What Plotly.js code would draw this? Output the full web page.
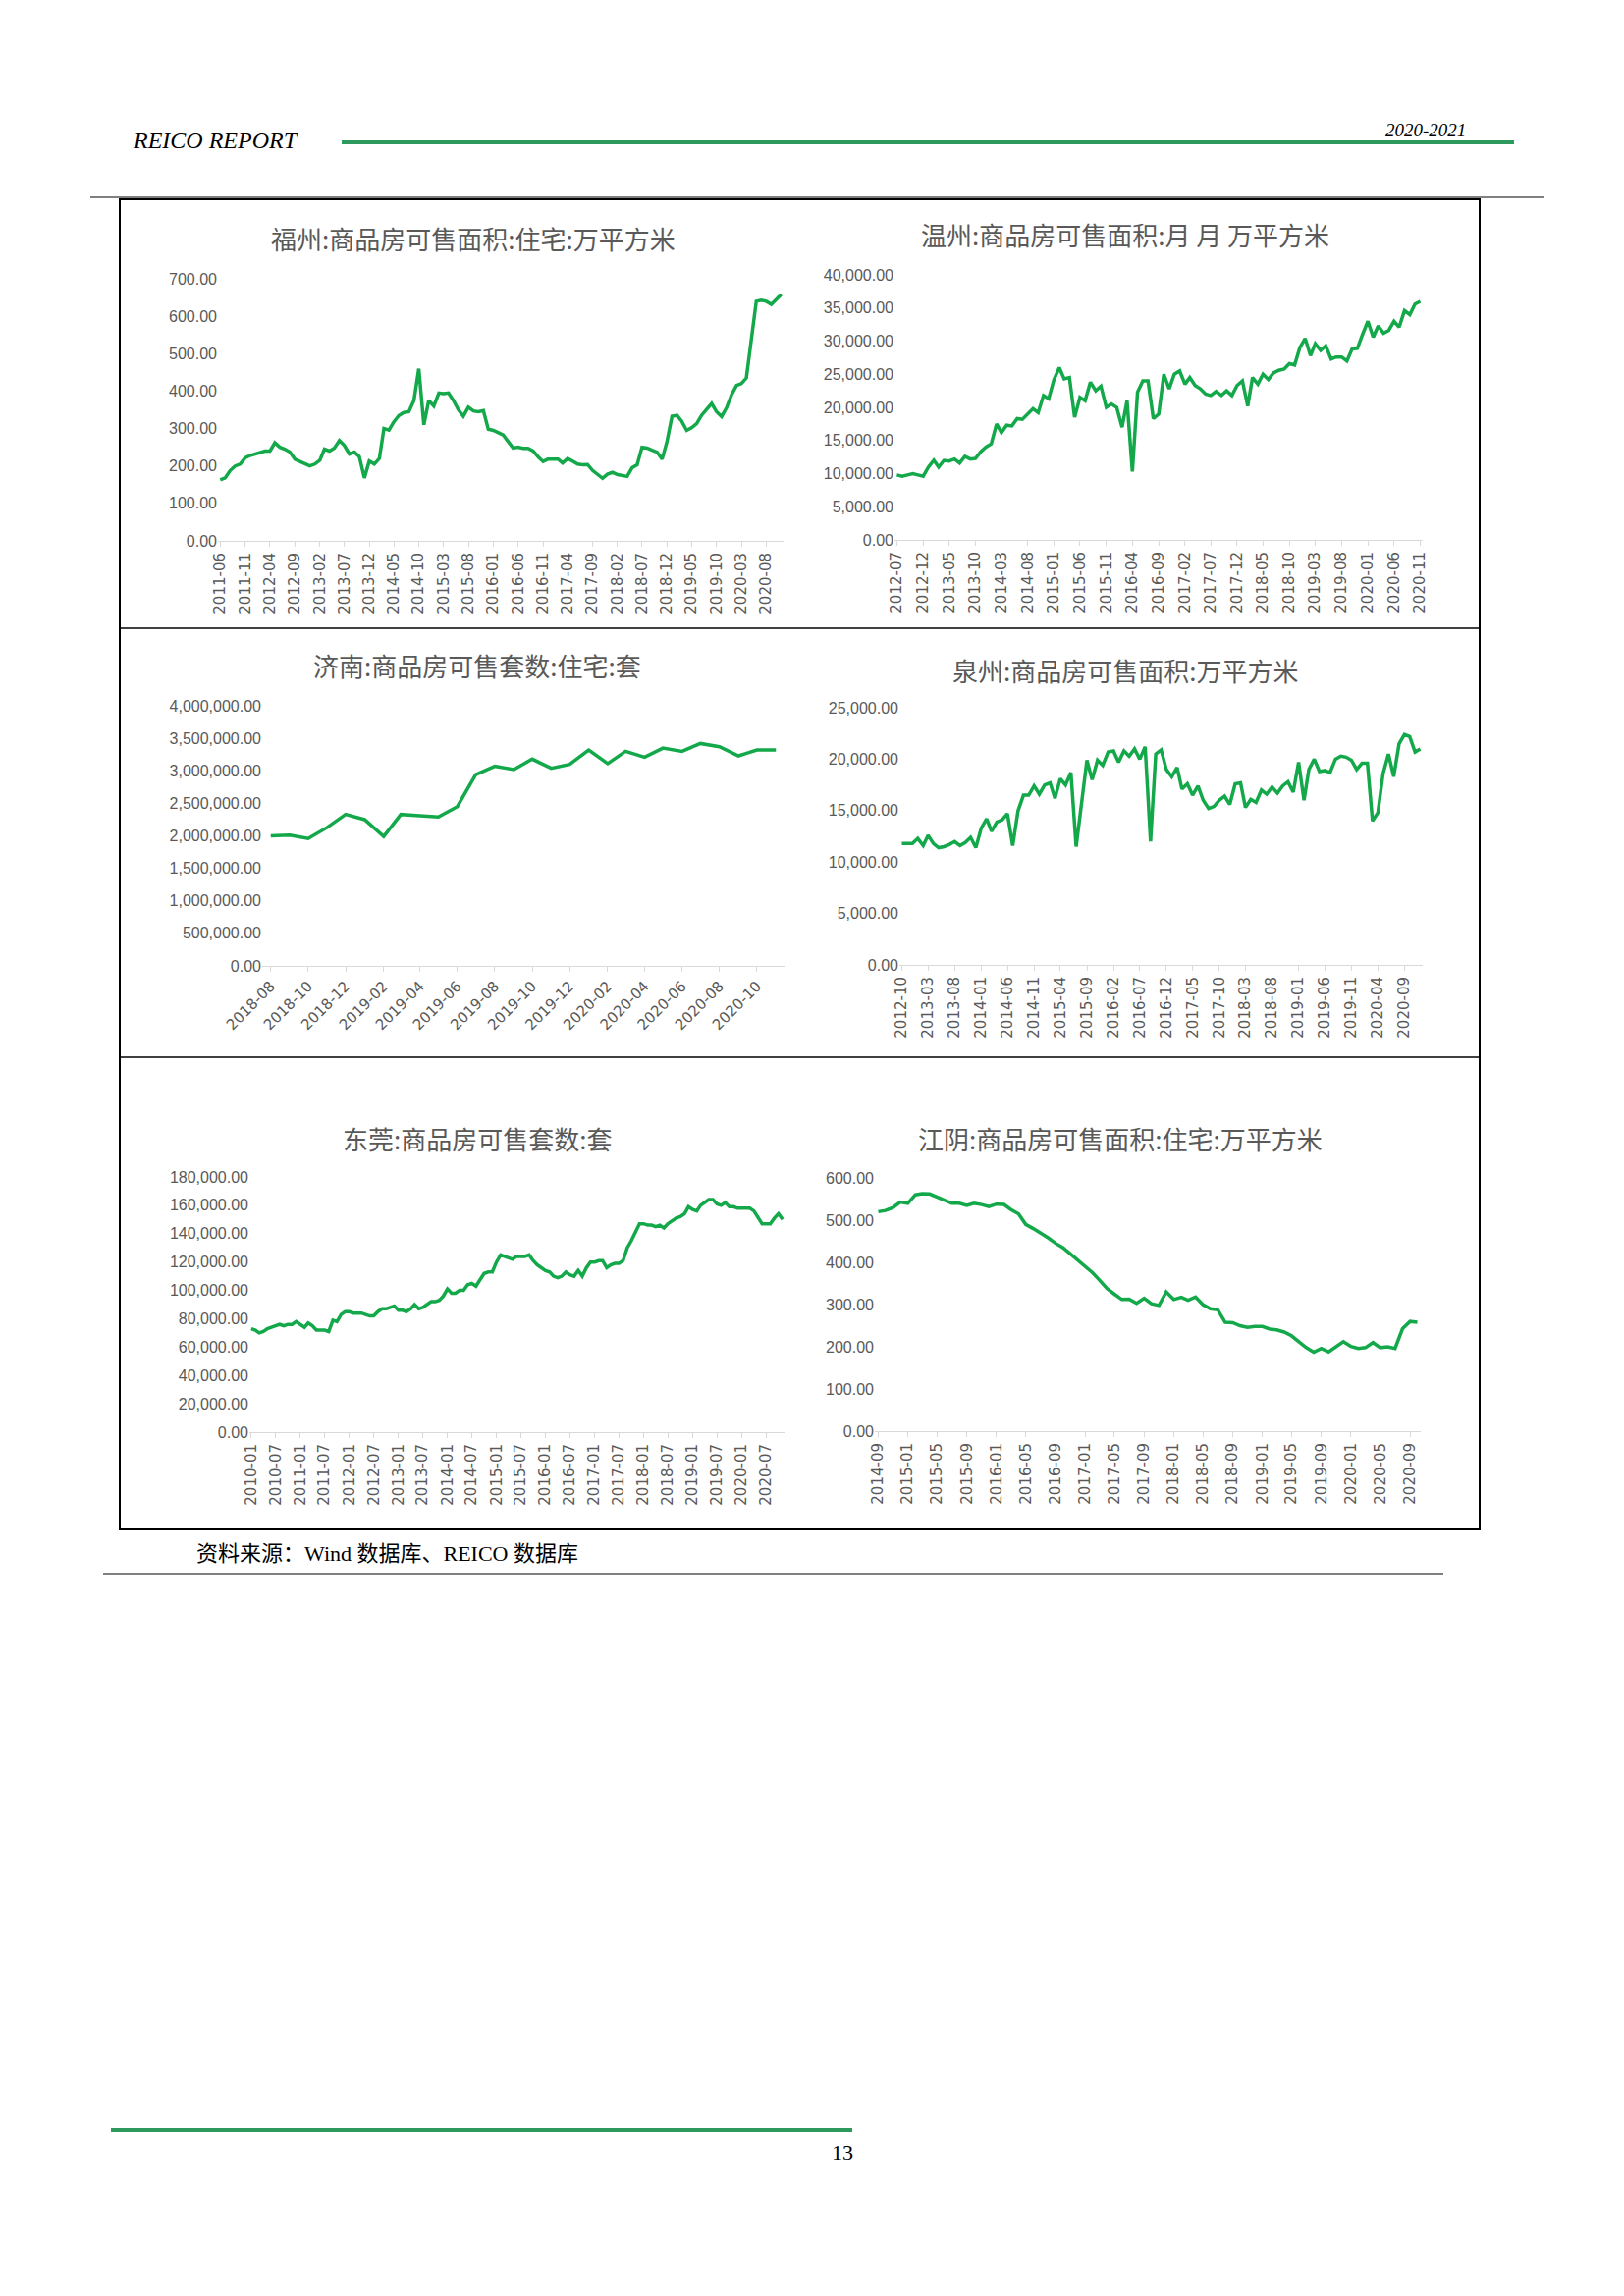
<!DOCTYPE html>
<html>
<head>
<meta charset="utf-8">
<script src="https://cdn.plot.ly/plotly-3.0.1.min.js"></script>
<style>
  html, body { margin: 0; padding: 0; background: #fff; }
  #page { width: 1654px; height: 2339px; }
</style>
</head>
<body>
<div id="page"></div>
<script>
(function () {

    const W = 1654;
    const H = 2339;
    const LINE_GREEN = "#13A84A";
    const RULE_GREEN = "#2E9A5E";
    const TEXT_GRAY = "#595959";
    const CJK = "Noto Sans CJK SC, sans-serif";
    const SERIF = "Liberation Serif, DejaVu Serif, serif";

    // ---- data (monthly values) ----
    const fuzhouStart = "2011-06";
    const fuzhouVals = [
        163, 168, 188, 200, 205, 222, 228,
        232, 236, 240, 240, 262, 250, 245, 237, 218, 212, 205, 200,
        205, 215, 245, 240, 248, 268, 255, 232, 237, 225, 168, 213,
        205, 220, 300, 296, 318, 335, 343, 345, 375, 460, 310, 375,
        360, 395, 393, 395, 375, 350, 333, 357, 347, 345, 348, 298,
        295, 290, 283, 265, 248, 250, 247, 247, 240, 225, 212, 218,
        218, 218, 208, 220, 213, 205, 203, 204, 188, 178, 167, 178,
        183, 177, 175, 172, 195, 203, 250, 248, 242, 237, 218, 265,
        333, 335, 320, 295, 302, 313, 335, 350, 367, 345, 332, 355,
        390, 415, 420, 435, 530, 640, 643, 640, 632, 645, 658
    ];

    const wenzhouStart = "2012-07";
    const wenzhouVals = [
        9800, 9600, 9800, 10000, 9800, 9600,
        11000, 12000, 11000, 12000, 11900, 12200, 11600, 12600, 12200, 12300, 13300, 14000,
        14500, 17500, 16200, 17300, 17200, 18300, 18200, 19000, 19800, 19200, 21800, 21300,
        24200, 26000, 24300, 24500, 18500, 21500, 21000, 23800, 22500, 23200, 20000, 20500,
        20000, 17000, 21000, 10300, 22300, 24000, 24000, 18300, 19000, 25000, 22800, 25000,
        25500, 23500, 24500, 23300, 22800, 22000, 21800, 22400, 21800, 22500, 21800, 23300,
        24000, 20200, 24500, 23500, 25000, 24200, 25200, 25600, 25800, 26600, 26400, 29000,
        30400, 27800, 29600, 28600, 29300, 27300, 27600, 27600, 27000, 28800, 28900, 31000,
        33000, 30600, 32300, 31200, 31600, 33000, 32100, 34600, 34000, 35600, 36000
    ];

    const jinanStart = "2018-08";
    const jinanVals = [
        2000000, 2010000, 1960000, 2130000, 2330000,
        2250000, 1990000, 2330000, 2310000, 2290000, 2450000, 2940000, 3070000, 3020000, 3180000, 3040000, 3100000,
        3320000, 3110000, 3300000, 3210000, 3350000, 3300000, 3420000, 3370000, 3230000, 3320000, 3320000
    ];

    const quanzhouStart = "2012-10";
    const quanzhouVals = [
        11800, 11800, 11800,
        12300, 11600, 12600, 11800, 11400, 11500, 11700, 12000, 11600, 11900, 12400, 11400,
        13300, 14200, 13000, 13900, 14100, 14700, 11600, 15000, 16500, 16500, 17400, 16600,
        17500, 17700, 16200, 18100, 17500, 18700, 11500, 15500, 19900, 18000, 19900, 19400,
        20700, 20800, 19700, 20800, 20300, 21000, 20000, 21200, 12000, 20500, 20900, 19000,
        18300, 19200, 17100, 17600, 16500, 17400, 16000, 15200, 15400, 16000, 16400, 15600,
        17600, 17700, 15300, 16100, 15800, 17000, 16600, 17300, 16700, 17400, 17800, 16800,
        19700, 16000, 19000, 20000, 18800, 18900, 18700, 20000, 20300, 20200, 19900, 19000,
        19600, 19600, 14000, 14800, 18600, 20500, 18300, 21500, 22400, 22200, 20700, 21000
    ];

    const dongguanStart = "2010-01";
    const dongguanVals = [
        73000, 72000, 70000, 71000, 73000, 74000, 75000, 76000, 75000, 76000, 76000, 78000,
        76000, 74000, 77000, 75000, 72000, 72000, 72000, 71000, 79000, 78000, 83000, 85000,
        85000, 84000, 84000, 84000, 83000, 82000, 82000, 85000, 87000, 87000, 88000, 89000,
        86000, 86000, 85000, 87000, 90000, 87000, 88000, 90000, 92000, 92000, 93000, 96000,
        101000, 98000, 98000, 100000, 100000, 104000, 105000, 103000, 108000, 112000, 113000, 113000,
        120000, 125000, 124000, 123000, 122000, 124000, 124000, 124000, 125000, 121000, 118000, 116000,
        114000, 113000, 110000, 109000, 110000, 113000, 111000, 110000, 114000, 110000, 116000, 120000,
        120000, 121000, 121000, 116000, 118000, 119000, 119000, 121000, 130000, 135000, 141000, 147000,
        147000, 146000, 146000, 145000, 146000, 144000, 147000, 149000, 151000, 152000, 154000, 159000,
        157000, 156000, 160000, 162000, 164000, 164000, 161000, 160000, 162000, 159000, 159000, 158000,
        158000, 158000, 158000, 156000, 151000, 147000, 147000, 147000, 151000, 154000, 150000
    ];

    const jiangyinStart = "2014-09";
    const jiangyinVals = [
        520, 523, 530, 543,
        540, 560, 563, 562, 555, 548, 540, 540, 535, 540, 537, 532,
        538, 537, 525, 515, 490, 480, 470, 458, 445, 435, 420, 405,
        390, 375, 358, 338, 325, 312, 313, 303, 315, 302, 298, 330,
        312, 317, 310, 318, 300, 290, 288, 258, 257, 250, 246, 248,
        248, 242, 240, 235, 226, 212, 198, 187, 196, 188, 200, 212,
        201, 196, 198, 210, 198, 200, 196, 243, 260, 258
    ];

    function months(start, n) {
        let y = parseInt(start.slice(0, 4), 10);
        let m = parseInt(start.slice(5, 7), 10);
        const out = [];
        for (let i = 0; i < n; i++) {
            out.push(y + "-" + String(m).padStart(2, "0") + "-01");
            m++;
            if (m > 12) { m = 1; y++; }
        }
        return out;
    }

    function shiftDays(d, days) {
        const t = new Date(d + "T00:00:00Z");
        t.setUTCDate(t.getUTCDate() + days);
        return t.toISOString().slice(0, 10);
    }

    const px = (x) => x / W;
    const py = (y) => 1 - y / H;

    // chart boxes in page pixels: x0,x1 of plot area, y of top tick and zero
    const charts = [
        { title: "福州:商品房可售面积:住宅:万平方米", start: fuzhouStart, vals: fuzhouVals,
          x0: 222, x1: 798, yTop: 284, yBot: 551, ymax: 700, dtick: 100, step: "M5", angle: -90, tx: 482, ty: 242 },
        { title: "温州:商品房可售面积:月 月 万平方米", start: wenzhouStart, vals: wenzhouVals,
          x0: 911, x1: 1449, yTop: 280, yBot: 550, ymax: 40000, dtick: 5000, step: "M5", angle: -90, tx: 1146, ty: 238 },
        { title: "济南:商品房可售套数:住宅:套", start: jinanStart, vals: jinanVals,
          x0: 267, x1: 799, yTop: 719, yBot: 984, ymax: 4000000, dtick: 500000, step: "M2", angle: -45, tx: 486, ty: 678 },
        { title: "泉州:商品房可售面积:万平方米", start: quanzhouStart, vals: quanzhouVals,
          x0: 916, x1: 1449, yTop: 721, yBot: 983, ymax: 25000, dtick: 5000, step: "M5", angle: -90, tx: 1146, ty: 682 },
        { title: "东莞:商品房可售套数:套", start: dongguanStart, vals: dongguanVals,
          x0: 254, x1: 799, yTop: 1199, yBot: 1459, ymax: 180000, dtick: 20000, step: "M6", angle: -90, tx: 486, ty: 1160 },
        { title: "江阴:商品房可售面积:住宅:万平方米", start: jiangyinStart, vals: jiangyinVals,
          x0: 891, x1: 1447, yTop: 1200, yBot: 1458, ymax: 600, dtick: 100, step: "M4", angle: -90, tx: 1141, ty: 1160 }
    ];

    const traces = [];
    const layout = {
        width: W,
        height: H,
        margin: { l: 0, r: 0, t: 0, b: 0 },
        paper_bgcolor: "#fff",
        plot_bgcolor: "rgba(0,0,0,0)",
        showlegend: false,
        annotations: [],
        shapes: []
    };

    charts.forEach((c, i) => {
        const k = i === 0 ? "" : String(i + 1);
        const xs = months(c.start, c.vals.length);
        traces.push({
            x: xs,
            y: c.vals,
            xaxis: "x" + k,
            yaxis: "y" + k,
            type: "scatter",
            mode: "lines",
            line: { color: LINE_GREEN, width: 3.5 },
            hoverinfo: "skip"
        });
        layout["xaxis" + k] = {
            domain: [px(c.x0), px(c.x1)],
            anchor: "y" + k,
            type: "date",
            range: [shiftDays(xs[0], -14), shiftDays(xs[xs.length - 1], 14)],
            tick0: xs[0],
            dtick: c.step,
            tickformat: "%Y-%m",
            tickangle: c.angle,
            ticks: "outside",
            ticklen: 5,
            tickcolor: "#d9d9d9",
            showline: true,
            linecolor: "#d9d9d9",
            linewidth: 1,
            showgrid: false,
            zeroline: false,
            tickfont: { family: "DejaVu Sans, sans-serif", size: 15, color: TEXT_GRAY },
            fixedrange: true
        };
        layout["yaxis" + k] = {
            domain: [py(c.yBot), py(c.yTop)],
            anchor: "x" + k,
            range: [0, c.ymax],
            dtick: c.dtick,
            tickformat: ",.2f",
            showgrid: false,
            zeroline: false,
            showline: false,
            ticks: "",
            tickfont: { family: "Liberation Sans, sans-serif", size: 16, color: TEXT_GRAY },
            fixedrange: true
        };
        layout.annotations.push({
            xref: "paper", yref: "paper",
            x: px(c.tx), y: py(c.ty),
            xanchor: "center", yanchor: "middle",
            text: c.title,
            showarrow: false,
            font: { family: CJK, size: 26, color: TEXT_GRAY }
        });
    });

    // page furniture
    layout.annotations.push(
        { xref: "paper", yref: "paper", x: px(133), y: py(143), xanchor: "left", yanchor: "middle",
          text: "<i>REICO REPORT</i>", showarrow: false, font: { family: SERIF, size: 24, color: "#000" } },
        { xref: "paper", yref: "paper", x: px(1495), y: py(132), xanchor: "right", yanchor: "middle",
          text: "<i>2020-2021</i>", showarrow: false, font: { family: SERIF, size: 19, color: "#000" } },
        { xref: "paper", yref: "paper", x: px(198), y: py(1582), xanchor: "left", yanchor: "middle",
          text: "资料来源：Wind 数据库、REICO 数据库", showarrow: false,
          font: { family: "Liberation Serif, Noto Sans CJK SC, serif", size: 22, color: "#000" } },
        { xref: "paper", yref: "paper", x: px(858), y: py(2192), xanchor: "center", yanchor: "middle",
          text: "13", showarrow: false, font: { family: SERIF, size: 22, color: "#000" } }
    );

    function line(x0, y0, x1, y1, color, width) {
        return { type: "line", xref: "paper", yref: "paper",
                 x0: px(x0), y0: py(y0), x1: px(x1), y1: py(y1),
                 line: { color: color, width: width } };
    }

    layout.shapes.push(
        line(348, 145, 1542, 145, RULE_GREEN, 4),
        line(92, 201, 1573, 201, "#000", 1),
        { type: "rect", xref: "paper", yref: "paper",
          x0: px(122), y0: py(1558), x1: px(1507), y1: py(203),
          line: { color: "#000", width: 2 } },
        line(122, 640, 1507, 640, "#000", 1.5),
        line(122, 1077, 1507, 1077, "#000", 1.5),
        line(105, 1603, 1470, 1603, "#000", 1),
        line(113, 2170, 868, 2170, RULE_GREEN, 4)
    );

    Plotly.newPlot("page", traces, layout, { displayModeBar: false, staticPlot: true });

})();
</script>
</body>
</html>
